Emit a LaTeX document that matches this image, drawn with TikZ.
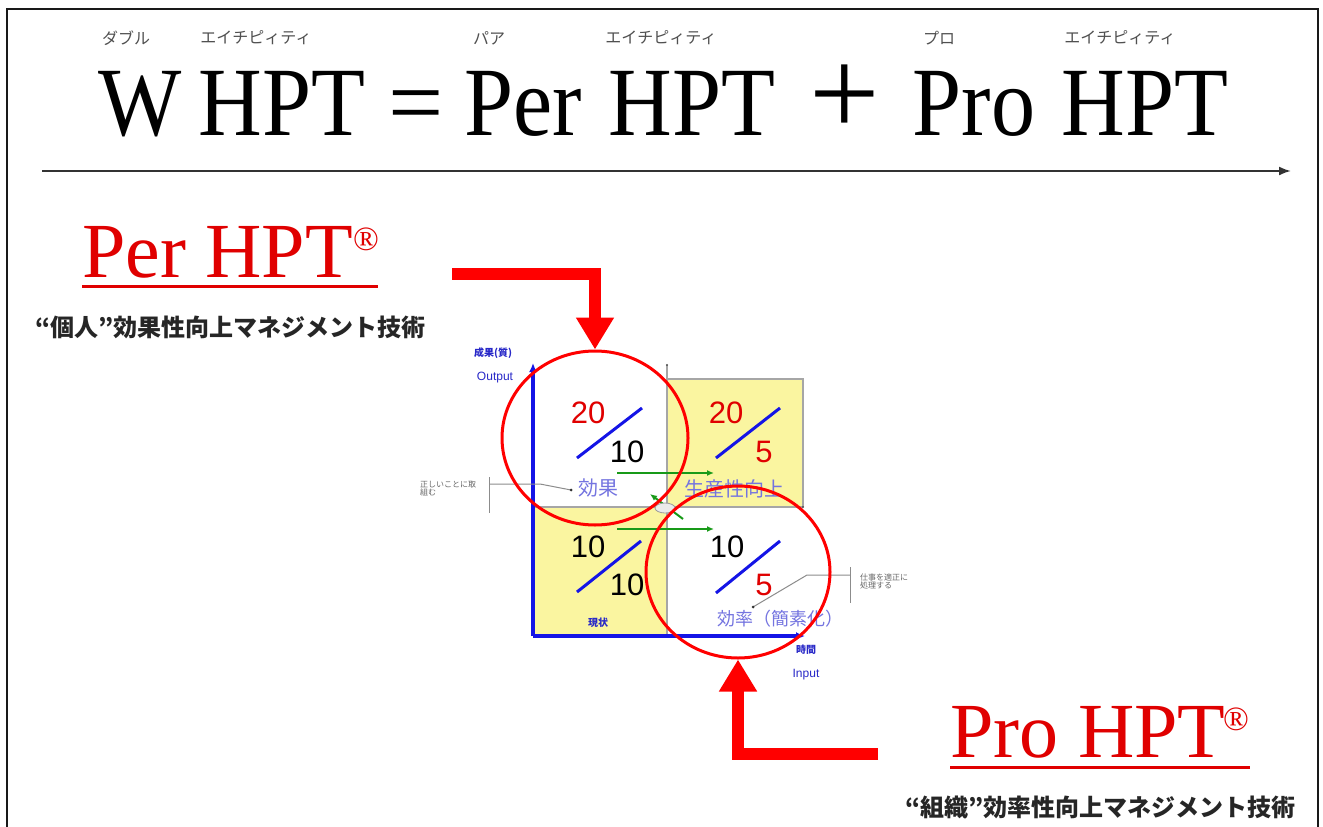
\documentclass[tikz,border=0pt]{standalone}
\usepackage{fontspec}
\setmainfont{Liberation Serif}
\newfontfamily\jp{Noto Sans CJK JP}
\newfontfamily\arial{Liberation Sans}
\usetikzlibrary{arrows.meta,shapes.geometric}
\newcommand\fsz[1]{\fontsize{#1}{#1}\selectfont}
\definecolor{hptred}{HTML}{E00000}
\definecolor{arrred}{HTML}{FF0000}
\definecolor{yfill}{HTML}{FAF5A0}
\definecolor{axblue}{HTML}{1414E6}
\definecolor{lav}{HTML}{7474E0}
\definecolor{dkblue}{HTML}{2828C8}
\definecolor{grn}{HTML}{189A18}
\definecolor{rubygray}{HTML}{505050}
\tikzset{
  ruby/.style={font=\jp\fsz{16}, text=rubygray, inner sep=0},
  title/.style={font=\fsz{98}, anchor=base, inner sep=0},
  hpt/.style={font=\fsz{78}, text=hptred, anchor=base west, inner sep=0},
  reg/.style={font=\fsz{34}, text=hptred, anchor=base west, inner sep=0},
  sub/.style={font=\jp\bfseries\fsz{24}, text=black!85, anchor=west, inner sep=0},
  num/.style={font=\arial\fsz{31}, inner sep=0},
  slash/.style={axblue, line width=3},
  ringstyle/.style={ellipse, draw=arrred, line width=3, inner sep=0},
  bigarrow/.style={arrred, line width=12, line join=miter, -{Triangle[width=36,length=32]}},
  axis/.style={axblue, line width=4, -{Latex[length=9,width=8]}},
  garrow/.style={grn, line width=2, -{Latex[length=7,width=6]}},
  quad/.style={lav, font=\jp\fsz{20}, inner sep=0},
  small/.style={dkblue, font=\jp\bfseries\fsz{10}, inner sep=0},
  smallen/.style={dkblue, font=\arial\fsz{12}, inner sep=0},
  note/.style={text=black!60, font=\jp\fsz{8}, align=left, inner sep=0, anchor=west},
  callout/.style={black!45, line width=1},
}
\begin{document}
\begin{tikzpicture}[x=1pt,y=-1pt]
\useasboundingbox (0,0) rectangle (1323,827);
\fill[white] (0,0) rectangle (1323,827);
% frame
\draw[black!90, line width=2.5] (7,827) -- (7,9) -- (1318,9) -- (1318,827);

% ruby
\node[ruby] (r1) at (126,38) {ダブル};
\node[ruby] (r2) at (256,38) {エイチピィティ};
\node[ruby] (r3) at (489,38) {パア};
\node[ruby] (r4) at (661,38) {エイチピィティ};
\node[ruby] (r5) at (939,38) {プロ};
\node[ruby] (r6) at (1120,38) {エイチピィティ};

% title
\node[title] (tW) at (140,135) {\scalebox{0.9}[1]{W}};
\node[title] (tH1) at (282,135) {\scalebox{0.9}[1]{HPT}};
\node[title] (tEq) at (416,135) {=};
\node[title] (tPer) at (523,135) {\scalebox{0.9}[1]{Per}};
\node[title] (tH2) at (692,135) {\scalebox{0.9}[1]{HPT}};
\node[title, font=\fsz{125}] (tPl) at (845,135) {+};
\node[title] (tPro) at (974,135) {\scalebox{0.9}[1]{Pro}};
\node[title] (tH3) at (1145,135) {\scalebox{0.9}[1]{HPT}};

% time arrow
\coordinate (ta) at (42,171);
\coordinate (tb) at (1291,171);
\draw[black!80, line width=2, -{Latex[length=12,width=9]}] (ta) -- (tb);

% Per HPT
\node[hpt] (per) at (82,277) {Per HPT};
\node[reg] (perR) at (353,250) {®};
\coordinate (pu1) at (82,286);
\coordinate (pu2) at (378,286);
\draw[hptred, line width=3] (pu1) -- (pu2);
\node[sub] (persub) at (35,327) {“個人”効果性向上マネジメント技術};

% Pro HPT
\node[hpt] (pro) at (950,757) {Pro HPT};
\node[reg] (proR) at (1223,730) {®};
\coordinate (qu1) at (950,767);
\coordinate (qu2) at (1250,767);
\draw[hptred, line width=3] (qu1) -- (qu2);
\node[sub] (prosub) at (905,807) {“組織”効率性向上マネジメント技術};

% chart quadrants
\fill[yfill] (667,379) rectangle (803,507);
\fill[yfill] (533,507) rectangle (667,636);
\draw[black!35, line width=1.2] (667,365) -- (667,636);
\draw[black!35, line width=1.2] (533,507) -- (803,507);
\draw[black!35, line width=1.2] (667,379) -- (803,379) -- (803,507);
\fill[black!70] (667,365) circle (1.2);
\fill[black!70] (803,507) circle (1.2);

% axes
\coordinate (org) at (533,636);
\coordinate (ytop) at (533,363);
\coordinate (xend) at (805,636);
\draw[axis] (org) -- (ytop);
\draw[axis] (org) -- (xend);
\node[small] (yl1) at (493,353) {成果(質)};
\node[smallen] (yl2) at (495,378) {Output};
\node[small] (xl1) at (806,650) {時間};
\node[smallen] (xl2) at (806,675) {Input};

% top-left
\node[num, text=hptred] (n1a) at (588,413) {20};
\node[num] (n1b) at (627,452) {10};
\coordinate (s1a) at (577,458); \coordinate (s1b) at (642,408);
\draw[slash] (s1a) -- (s1b);
% top-right
\node[num, text=hptred] (n2a) at (726,413) {20};
\node[num, text=hptred] (n2b) at (764,452) {5};
\coordinate (s2a) at (716,458); \coordinate (s2b) at (780,408);
\draw[slash] (s2a) -- (s2b);
% bottom-left
\node[num] (n3a) at (588,547) {10};
\node[num] (n3b) at (627,585) {10};
\coordinate (s3a) at (577,592); \coordinate (s3b) at (641,541);
\draw[slash] (s3a) -- (s3b);
% bottom-right
\node[num] (n4a) at (727,547) {10};
\node[num, text=hptred] (n4b) at (764,585) {5};
\coordinate (s4a) at (716,593); \coordinate (s4b) at (780,541);
\draw[slash] (s4a) -- (s4b);

% quadrant labels
\node[quad] (kk) at (598,488) {効果};
\node[quad] (sk) at (734,489) {生産性向上};
\node[quad, font=\jp\fsz{18}] (kr) at (780,619) {効率（簡素化）};
\node[small] (gj) at (598,623) {現状};

% green arrows
\coordinate (g1a) at (617,473); \coordinate (g1b) at (714,473);
\coordinate (g2a) at (617,529); \coordinate (g2b) at (714,529);
\coordinate (g3a) at (683,519); \coordinate (g3b) at (650,494);
\draw[garrow] (g1a) -- (g1b);
\draw[garrow] (g2a) -- (g2b);
\draw[garrow] (g3a) -- (g3b);
\node[ellipse, draw=black!40, fill=black!8, line width=0.8, minimum width=20, minimum height=10, inner sep=0] (mid) at (665,508) {};

% callouts
\coordinate (cl1) at (489,477); \coordinate (cl2) at (489,513);
\coordinate (cl3) at (489,484); \coordinate (cl4) at (540,484);
\coordinate (cl5) at (571,490);
\draw[callout] (cl1) -- (cl2);
\draw[callout] (cl3) -- (cl4) -- (cl5);
\fill[black!80] (cl5) circle (1.5);
\node[note] (nt1) at (420,489) {正しいことに取\\組む};

\coordinate (cr1) at (850,567); \coordinate (cr2) at (850,603);
\coordinate (cr3) at (850,575); \coordinate (cr4) at (807,575);
\coordinate (cr5) at (753,607);
\draw[callout] (cr1) -- (cr2);
\draw[callout] (cr3) -- (cr4) -- (cr5);
\fill[black!80] (cr5) circle (1.5);
\node[note] (nt2) at (860,581) {仕事を適正に\\処理する};

% red rings
\node[ringstyle, minimum width=186, minimum height=174] (c1) at (595,438) {};
\node[ringstyle, minimum width=184, minimum height=172] (c2) at (738,572) {};

% big red arrows
\coordinate (b1) at (452,274);
\coordinate (b2) at (878,754);
\draw[bigarrow] (b1) -| (c1.north);
\draw[bigarrow] (b2) -| (c2.south);
\end{tikzpicture}
\end{document}
